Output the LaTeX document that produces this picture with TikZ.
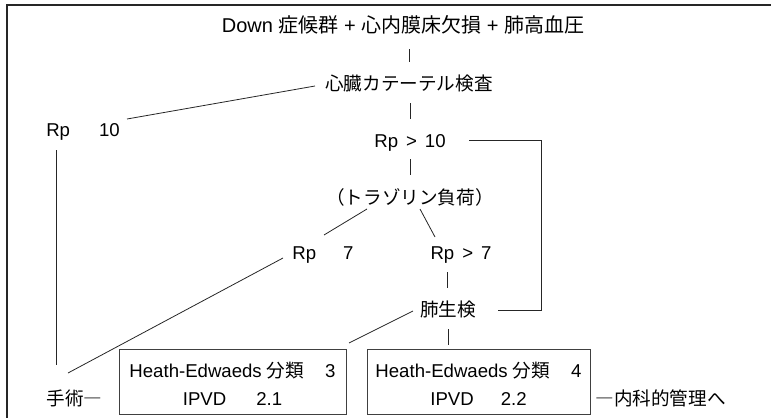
\documentclass[tikz,border=0pt]{standalone}
\usepackage{fontspec}
\setmainfont{Liberation Sans}
\newfontfamily\jp{Noto Sans CJK JP}
\begin{document}
\begin{tikzpicture}[x=1pt,y=-1pt,
  lbl/.style={font=\fontsize{18.6}{22}\selectfont, inner sep=0pt, text height=14pt, text depth=0pt},
  ttl/.style={font=\fontsize{20}{24}\selectfont, inner sep=0pt, text height=15pt, text depth=0pt},
  conn/.style={line width=0.8pt, draw=black!85},
  boxst/.style={draw=black!75, line width=0.9pt, minimum width=#1, minimum height=65pt, inner sep=0pt},
  framest/.style={line width=1.4pt, draw=black!85}]
\useasboundingbox (0,0) rectangle (771,418);
\draw[framest] (771,5) -- (7,5) -- (7,418);

\node[ttl] (title) at (403,25) {Down {\jp 症候群} + {\jp 心内膜床欠損} + {\jp 肺高血圧}};
\node[lbl] (cath) at (409,83) {\jp 心臓カテーテル検査};
\node[lbl] (rpa) at (83,129) {Rp\hspace{29pt}10};
\node[lbl] (rpb) at (410,140) {Rp\hspace{8pt}>\hspace{8pt}10};
\node[lbl] (tol) at (410,197) {\jp （トラゾリン負荷）};
\node[lbl] (rpc) at (323,252) {Rp\hspace{27pt}7};
\node[lbl] (rpd) at (461,252) {Rp\hspace{8pt}>\hspace{8pt}7};
\node[lbl] (lung) at (448,309) {\jp 肺生検};
\node[boxst=227pt] (box1) at (232.5,381.5) {};
\node[lbl] (box1a) at (232.5,370) {Heath-Edwaeds {\jp 分類}\hspace{21pt}3};
\node[lbl] (box1b) at (232.5,398) {IPVD\hspace{30pt}2.1};
\node[boxst=223pt] (box2) at (478.5,381.5) {};
\node[lbl] (box2a) at (478.5,370) {Heath-Edwaeds {\jp 分類}\hspace{21pt}4};
\node[lbl] (box2b) at (478.5,398) {IPVD\hspace{27pt}2.2};
\node[lbl] (surg) at (74.5,398) {\jp 手術―};
\node[lbl] (med) at (660.5,398) {\jp ―内科的管理へ};

\draw[conn] ([shift={(6,24)}]title.center) -- ([shift={(0,-21)}]cath.center);
\draw[conn] ([shift={(-94,3)}]cath.center) -- ([shift={(44,-10)}]rpa.center);
\draw[conn] ([shift={(1,20)}]cath.center) -- ([shift={(0,-21)}]rpb.center);
\draw[conn] ([shift={(-27,21)}]rpa.center) -- ([shift={(-18.5,-33)}]surg.center);
\draw[conn] ([shift={(59,0)}]rpb.center) -- ++(72,0) |- ([shift={(50,1)}]lung.center);
\draw[conn] ([shift={(0,19)}]rpb.center) -- ([shift={(0,-22)}]tol.center);
\draw[conn] ([shift={(-43,12)}]tol.center) -- ([shift={(1,-17)}]rpc.center);
\draw[conn] ([shift={(10,12)}]tol.center) -- ([shift={(-26,-15)}]rpd.center);
\draw[conn] ([shift={(-40,6)}]rpc.center) -- ([shift={(-6.5,-25)}]surg.center);
\draw[conn] ([shift={(-14,20)}]rpd.center) -- ([shift={(-1,-21)}]lung.center);
\draw[conn] ([shift={(-35,2)}]lung.center) -- ([shift={(116.5,-38.5)}]box1.center);
\draw[conn] ([shift={(0,20)}]lung.center) -- ([shift={(-30.5,-36.5)}]box2.center);
\end{tikzpicture}
\end{document}
